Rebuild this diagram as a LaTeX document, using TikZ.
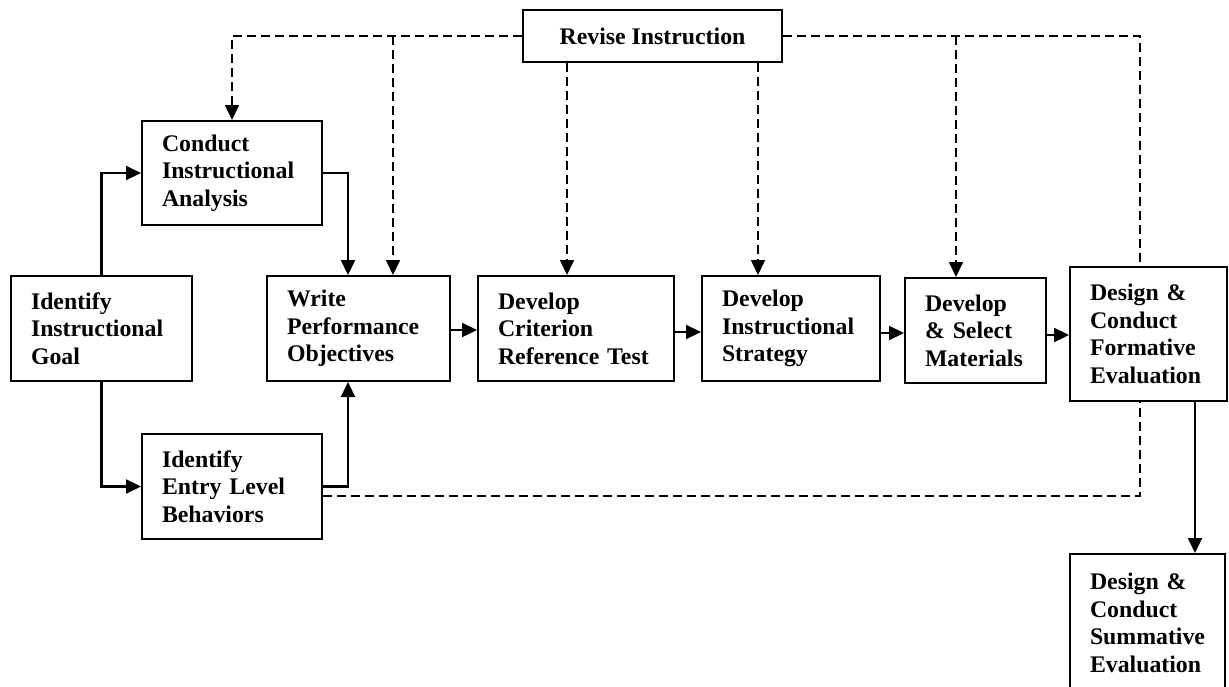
\documentclass[tikz,border=0pt]{standalone}
\usepackage{fontspec}
\setmainfont{Liberation Serif}
\usetikzlibrary{arrows.meta,calc}
\tikzset{
  box/.style={draw, line width=2pt, inner xsep=20pt, inner ysep=0pt, align=left,
    font=\fontsize{23.8}{27.5}\selectfont\bfseries, anchor=center},
  arr/.style={line width=2.2pt, -{Triangle[length=15pt,width=14pt]}},
  darr/.style={line width=1.6pt, dash pattern=on 9pt off 5pt, -{Triangle[length=15pt,width=14pt]}},
  dline/.style={line width=1.6pt, dash pattern=on 9pt off 5pt},
}
\begin{document}
\begin{tikzpicture}[x=1pt,y=-1pt]
\useasboundingbox (0,0) rectangle (1229,686);
\clip (0,0) rectangle (1229,686);
% boxes
\node[box, minimum width=259pt, minimum height=52pt, align=center, inner xsep=0pt] (revise) at (652.5,36) {Revise Instruction};
\node[box, text width=140pt, minimum height=104pt] (conduct) at (232,173) {Conduct\\Instructional\\Analysis};
\node[box, text width=141pt, minimum height=105pt] (goal) at (101.5,328.5) {Identify\\Instructional\\Goal};
\node[box, text width=143pt, minimum height=105pt] (write) at (358.5,328.5) {Write\\Performance\\Objectives};
\node[box, text width=156pt, minimum height=105pt] (crit) at (576,328.5) {Develop\\Criterion\\Reference Test};
\node[box, text width=138pt, minimum height=105pt] (strat) at (791,328.5) {Develop\\Instructional\\Strategy};
\node[box, text width=101pt, minimum height=105pt] (mat) at (975.5,330.5) {Develop\\\& Select\\Materials};
\node[box, text width=117pt, minimum height=134pt] (form) at (1148.5,334) {Design \&\\Conduct\\Formative\\Evaluation};
\node[box, text width=140pt, minimum height=105pt] (entry) at (232,486.5) {Identify\\Entry Level\\Behaviors};
\node[box, text width=115pt, minimum height=138pt] (summ) at (1147.5,623) {Design \&\\Conduct\\Summative\\Evaluation};
% helper coordinates
\coordinate (cx) at (348,0);
\coordinate (sx) at (1195,0);
\coordinate (d1) at (393,36);
\coordinate (d2) at (567,0);
\coordinate (d3) at (758,0);
\coordinate (d4) at (956,36);
\coordinate (d5) at (1140,0);
\coordinate (yb) at (0,496);
% solid connectors
\draw[arr] (goal.north) |- (conduct.west);
\draw[arr] (goal.south) |- (entry.west);
\draw[arr] (conduct.east) -| (cx |- write.north);
\draw[arr] (entry.east) -| (cx |- write.south);
\draw[arr] (write.east |- 0,330) -- (crit.west |- 0,330);
\draw[arr] (crit.east |- 0,332) -- (strat.west |- 0,332);
\draw[arr] (strat.east |- 0,333) -- (mat.west |- 0,333);
\draw[arr] (mat.east |- 0,335) -- (form.west |- 0,335);
\draw[arr] (sx |- form.south) -- (sx |- summ.north);
% dashed feedback
\draw[darr] (revise.west) -| (conduct.north);
\draw[darr] (d1) -- (d1 |- write.north);
\draw[darr] (d2 |- revise.south) -- (d2 |- crit.north);
\draw[darr] (d3 |- revise.south) -- (d3 |- strat.north);
\draw[dline] (revise.east) -| (d5 |- form.north);
\draw[darr] (d4) -- (d4 |- mat.north);
\draw[dline] (entry.east |- yb) -| (d5 |- form.south);
\end{tikzpicture}
\end{document}
